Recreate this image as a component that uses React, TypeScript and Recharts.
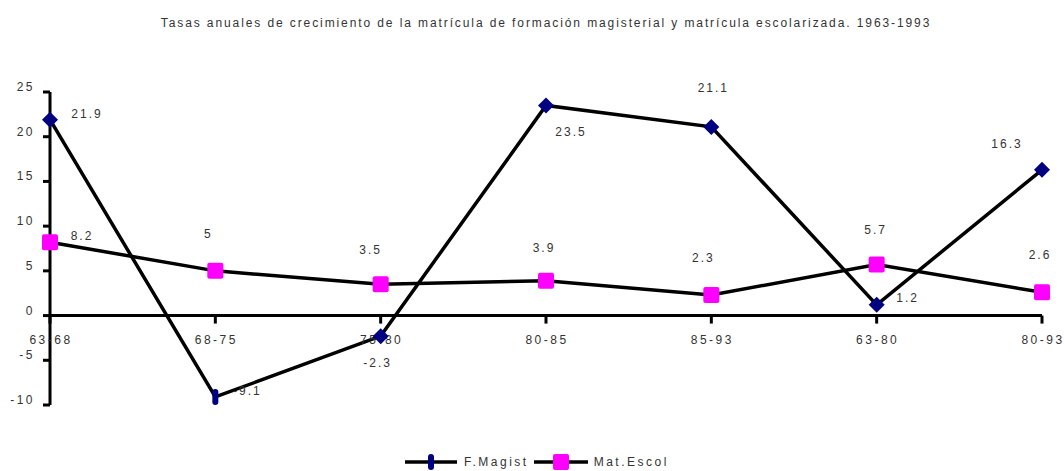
import { LineChart, Line, XAxis, YAxis, ReferenceLine, ReferenceDot, LabelList } from 'recharts'

const periods = ['63-68', '68-75', '75-80', '80-85', '85-93', '63-80', '80-93']
const fMagist = [21.9, -9.1, -2.3, 23.5, 21.1, 1.2, 16.3]
const matEscol = [8.2, 5, 3.5, 3.9, 2.3, 5.7, 2.6]
const yTicks = [-10, -5, 0, 5, 10, 15, 20, 25]

const TITLE =
  'Tasas anuales de crecimiento de la matrícula de formación magisterial y matrícula escolarizada. 1963-1993'

const data = periods.map((p, i) => ({ period: p, fMagist: fMagist[i], matEscol: matEscol[i] }))

// label offsets copied from the Excel layout (dx, dy from the point)
const magistOffsets = [[37, -6], [32, -6], [-3, 27], [25, 27], [2, -39], [31, -7], [-35, -26]]
const escolOffsets = [[32, -6], [-7, -37], [-10, -34], [-2, -33], [-8, -37], [-1, -35], [-2, -37]]

const FONT = '"Liberation Sans", Arial, sans-serif'
const TEXT = '#333'
const NAVY = '#000080'
const MAGENTA = '#FF00FF'

function makeLabel(offsets: number[][]) {
  return (props: any) => {
    const { x, y, value, index } = props
    const [dx, dy] = offsets[index] ?? [0, -12]
    return (
      <text
        x={x + dx}
        y={y + dy}
        textAnchor="middle"
        dominantBaseline="central"
        fontSize={12}
        letterSpacing={2}
        fill={TEXT}
        fontFamily={FONT}
      >
        {value}
      </text>
    )
  }
}

function Diamond(props: any) {
  const { cx, cy, index } = props
  if (cx == null || cy == null) return null
  if (index === 1) {
    return <rect x={cx - 3} y={cy - 8} width={6} height={16} rx={3} fill={NAVY} />
  }
  const r = 8
  return <path d={`M${cx},${cy - r} L${cx + r},${cy} L${cx},${cy + r} L${cx - r},${cy} Z`} fill={NAVY} />
}

function Square(props: any) {
  const { cx, cy } = props
  if (cx == null || cy == null) return null
  return <rect x={cx - 8} y={cy - 8} width={16} height={16} rx={2} fill={MAGENTA} />
}

function YTick(props: any) {
  const { x, y, payload } = props
  return (
    <text
      x={x - 6}
      y={y - 5}
      textAnchor="end"
      dominantBaseline="central"
      fontSize={12}
      letterSpacing={2.5}
      fill={TEXT}
      fontFamily={FONT}
    >
      {payload.value}
    </text>
  )
}

function PeriodTick(label: string) {
  return (props: any) => {
    const { cx, cy } = props
    if (cx == null || cy == null) return null
    return (
      <g>
        <line x1={cx} y1={cy} x2={cx} y2={cy + 8} stroke="#000" strokeWidth={3} />
        <text
          x={cx + 1}
          y={cy + 24}
          textAnchor="middle"
          dominantBaseline="central"
          fontSize={12}
          letterSpacing={2.5}
          fill={TEXT}
          fontFamily={FONT}
        >
          {label}
        </text>
      </g>
    )
  }
}

export default function App() {
  return (
    <div
      style={{
        position: 'absolute',
        top: 0,
        left: 0,
        width: 1064,
        height: 471,
        overflow: 'hidden',
        fontFamily: FONT,
        background: '#fff',
      }}
    >
      <div
        style={{
          position: 'absolute',
          top: 16,
          left: 22,
          width: 1048,
          textAlign: 'center',
          fontSize: 12,
          letterSpacing: 1.9,
          color: TEXT,
        }}
      >
        {TITLE}
      </div>
      <LineChart width={1064} height={471} data={data} margin={{ top: 92, right: 22, bottom: 66, left: 0 }}>
        <XAxis dataKey="period" scale="point" padding={{ left: 0, right: 0 }} hide />
        <YAxis
          width={50}
          domain={[-10, 25]}
          ticks={yTicks}
          interval={0}
          axisLine={{ stroke: '#000', strokeWidth: 3 }}
          tickLine={{ stroke: '#000', strokeWidth: 3 }}
          tickSize={7}
          tick={<YTick />}
        />
        {periods.map((p) => (
          <ReferenceDot key={p} x={p} y={0} r={0} shape={PeriodTick(p)} ifOverflow="visible" />
        ))}
        <ReferenceLine y={0} stroke="#000" strokeWidth={3} />
        <Line
          dataKey="fMagist"
          type="linear"
          stroke="#000"
          strokeWidth={3.5}
          dot={<Diamond />}
          activeDot={false}
          isAnimationActive={false}
        >
          <LabelList dataKey="fMagist" content={makeLabel(magistOffsets)} />
        </Line>
        <Line
          dataKey="matEscol"
          type="linear"
          stroke="#000"
          strokeWidth={3.5}
          dot={<Square />}
          activeDot={false}
          isAnimationActive={false}
        >
          <LabelList dataKey="matEscol" content={makeLabel(escolOffsets)} />
        </Line>
      </LineChart>
      <div
        style={{
          position: 'absolute',
          top: 453,
          left: 403,
          display: 'flex',
          alignItems: 'center',
          fontSize: 12,
          letterSpacing: 2.5,
          color: TEXT,
          whiteSpace: 'nowrap',
        }}
      >
        <svg width={56} height={18} style={{ display: 'block' }}>
          <line x1={2} y1={9} x2={54} y2={9} stroke="#000" strokeWidth={3.5} />
          <rect x={25} y={1} width={6} height={16} rx={3} fill={NAVY} />
        </svg>
        <span style={{ marginLeft: 5, marginRight: 3 }}>F.Magist</span>
        <svg width={58} height={18} style={{ display: 'block' }}>
          <line x1={2} y1={9} x2={56} y2={9} stroke="#000" strokeWidth={3.5} />
          <rect x={21} y={1} width={16} height={16} rx={2} fill={MAGENTA} />
        </svg>
        <span style={{ marginLeft: 4 }}>Mat.Escol</span>
      </div>
    </div>
  )
}
